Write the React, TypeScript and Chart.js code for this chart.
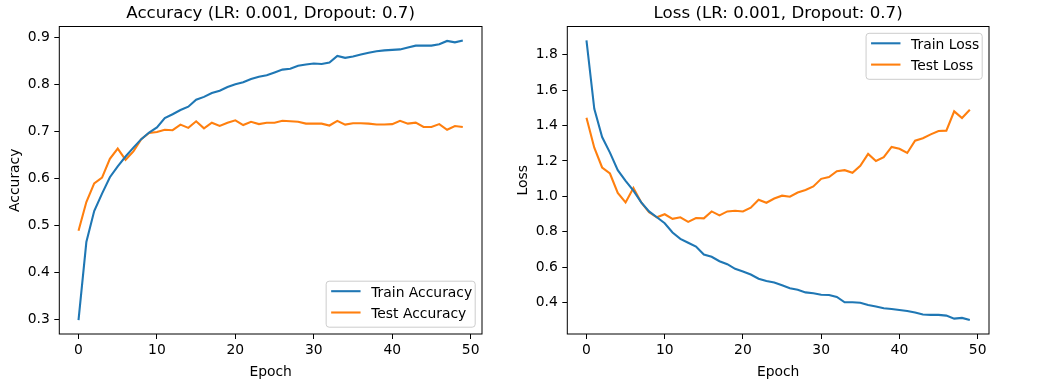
import React, { useEffect, useRef } from "react";
import { Chart, registerables } from "chart.js";

Chart.register(...registerables);

const epochs = [
  0, 1, 2, 3, 4, 5, 6, 7, 8, 9, 10, 11, 12, 13, 14, 15, 16, 17, 18, 19, 20, 21, 22, 23, 24,
  25, 26, 27, 28, 29, 30, 31, 32, 33, 34, 35, 36, 37, 38, 39, 40, 41, 42, 43, 44, 45, 46, 47, 48, 49,
];

const trainAcc = [
  0.298, 0.464, 0.53, 0.567, 0.602, 0.625, 0.646, 0.665, 0.683, 0.697,
  0.708, 0.728, 0.736, 0.745, 0.752, 0.767, 0.773, 0.781, 0.786, 0.794,
  0.8, 0.804, 0.811, 0.816, 0.819, 0.825, 0.831, 0.833, 0.839, 0.842,
  0.844, 0.843, 0.846, 0.86, 0.856, 0.859, 0.863, 0.867, 0.87, 0.872,
  0.873, 0.874, 0.878, 0.882, 0.882, 0.882, 0.885, 0.892, 0.889, 0.893,
];

const testAcc = [
  0.488, 0.549, 0.589, 0.601, 0.641, 0.663, 0.639, 0.657, 0.683, 0.696,
  0.698, 0.703, 0.702, 0.714, 0.707, 0.721, 0.706, 0.718, 0.711, 0.718,
  0.723, 0.713, 0.72, 0.715, 0.718, 0.718, 0.722, 0.721, 0.72, 0.716,
  0.716, 0.716, 0.712, 0.722, 0.714, 0.717, 0.717, 0.716, 0.714, 0.714,
  0.715, 0.722, 0.716, 0.718, 0.709, 0.709, 0.715, 0.703, 0.711, 0.709,
];

const trainLoss = [
  1.88, 1.494, 1.335, 1.247, 1.148, 1.088, 1.032, 0.966, 0.915, 0.882,
  0.848, 0.796, 0.76, 0.738, 0.717, 0.672, 0.659, 0.634, 0.617, 0.591,
  0.576, 0.559, 0.535, 0.522, 0.514, 0.498, 0.481, 0.473, 0.458, 0.453,
  0.445, 0.443, 0.432, 0.402, 0.402, 0.4, 0.387, 0.378, 0.368, 0.364,
  0.359, 0.353, 0.344, 0.333, 0.331, 0.331, 0.327, 0.31, 0.314, 0.302,
];

const testLoss = [
  1.444, 1.275, 1.163, 1.129, 1.019, 0.966, 1.047, 0.966, 0.91, 0.882,
  0.899, 0.873, 0.882, 0.856, 0.878, 0.876, 0.915, 0.893, 0.915, 0.919,
  0.915, 0.936, 0.981, 0.964, 0.988, 1.004, 0.998, 1.022, 1.036, 1.056,
  1.099, 1.109, 1.142, 1.148, 1.133, 1.172, 1.24, 1.2, 1.221, 1.279,
  1.269, 1.245, 1.314, 1.328, 1.35, 1.369, 1.371, 1.48, 1.442, 1.489,
];

const xTicks = [0, 10, 20, 30, 40, 50];
const accTicks = [0.3, 0.4, 0.5, 0.6, 0.7, 0.8, 0.9];
const lossTicks = [0.4, 0.6, 0.8, 1.0, 1.2, 1.4, 1.6, 1.8];

const BLUE = "#1f77b4";
const ORANGE = "#ff7f0e";
const FONT = '"DejaVu Sans", "Liberation Sans", sans-serif';
const TICK_SIZE = 13.89;
const TITLE_SIZE = 16.67;

type LegendItem = { label: string; color: string };

type PanelCfg = {
  title: string;
  xLabel: string;
  yLabel: string;
  yLabelX: number;
  legend: LegendItem[];
  legendLoc: "lower right" | "upper right";
};

function margins(arrs: number[][]) {
  let lo = Infinity;
  let hi = -Infinity;
  arrs.forEach((a) => a.forEach((v) => { if (v < lo) lo = v; if (v > hi) hi = v; }));
  const pad = (hi - lo) * 0.05;
  return { min: lo - pad, max: hi + pad };
}

function decorPlugin(cfg: PanelCfg) {
  return {
    id: "mplDecor",
    afterDraw(chart: any) {
      const { ctx, chartArea: a } = chart;
      ctx.save();
      // axes frame
      ctx.strokeStyle = "#000";
      ctx.lineWidth = 1;
      ctx.strokeRect(a.left, a.top, a.right - a.left, a.bottom - a.top);

      const cx = (a.left + a.right) / 2;
      ctx.fillStyle = "#000";
      ctx.textAlign = "center";
      ctx.textBaseline = "alphabetic";
      ctx.font = `${TITLE_SIZE}px ${FONT}`;
      ctx.fillText(cfg.title, cx, 18.3);

      ctx.font = `${TICK_SIZE}px ${FONT}`;
      ctx.fillText(cfg.xLabel, cx, 375.8);

      ctx.save();
      ctx.translate(cfg.yLabelX, (a.top + a.bottom) / 2);
      ctx.rotate(-Math.PI / 2);
      ctx.fillText(cfg.yLabel, 0, 0);
      ctx.restore();

      // legend
      ctx.font = `${TICK_SIZE}px ${FONT}`;
      const textW = Math.max(...cfg.legend.map((l) => ctx.measureText(l.label).width));
      const boxW = 48 + textW;
      const boxH = 46;
      const right = a.right - 6.8;
      const top = cfg.legendLoc === "upper right" ? a.top + 6.8 : a.bottom - 6.8 - boxH;
      const left = right - boxW;
      ctx.beginPath();
      ctx.roundRect(left, top, boxW, boxH, 3);
      ctx.fillStyle = "rgba(255,255,255,0.8)";
      ctx.fill();
      ctx.strokeStyle = "#cccccc";
      ctx.lineWidth = 1;
      ctx.stroke();
      cfg.legend.forEach((item, i) => {
        const y = top + 10 + i * 21.3;
        ctx.beginPath();
        ctx.strokeStyle = item.color;
        ctx.lineWidth = 2.08;
        ctx.moveTo(left + 5, y);
        ctx.lineTo(left + 34.4, y);
        ctx.stroke();
        ctx.fillStyle = "#000";
        ctx.textAlign = "left";
        ctx.fillText(item.label, left + 45, y + 5.5);
      });
      ctx.restore();
    },
  };
}

function makeConfig(
  series: { label: string; data: number[]; color: string }[],
  yTicks: number[],
  cfg: PanelCfg,
  padding: { left: number; right: number; top: number; bottom: number }
) {
  const yr = margins(series.map((s) => s.data));
  const xr = margins([epochs]);
  const tickFont = { family: FONT, size: TICK_SIZE };
  const grid = {
    display: true,
    drawOnChartArea: false,
    drawTicks: true,
    tickLength: 5,
    color: "#000",
    lineWidth: 1,
  };
  return {
    type: "line" as const,
    data: {
      datasets: series.map((s) => ({
        label: s.label,
        data: epochs.map((e, i) => ({ x: e, y: s.data[i] })),
        borderColor: s.color,
        backgroundColor: s.color,
        borderWidth: 2.08,
        pointRadius: 0,
        pointHoverRadius: 0,
        tension: 0,
        fill: false,
      })),
    },
    options: {
      animation: false as const,
      responsive: false,
      devicePixelRatio: 1,
      events: [],
      layout: { padding },
      plugins: {
        legend: { display: false },
        title: { display: false },
        tooltip: { enabled: false },
      },
      scales: {
        x: {
          type: "linear" as const,
          min: xr.min,
          max: xr.max,
          afterBuildTicks: (s: any) => {
            s.ticks = xTicks.map((v) => ({ value: v }));
          },
          afterFit: (s: any) => {
            s.height = 30;
          },
          ticks: {
            color: "#000",
            font: tickFont,
            padding: 3,
            maxRotation: 0,
            autoSkip: false,
            callback: (v: any) => String(v),
          },
          grid,
          border: { display: false },
        },
        y: {
          type: "linear" as const,
          min: yr.min,
          max: yr.max,
          afterBuildTicks: (s: any) => {
            s.ticks = yTicks.map((v) => ({ value: v }));
          },
          afterFit: (s: any) => {
            s.width = 40;
          },
          ticks: {
            color: "#000",
            font: tickFont,
            padding: 4.5,
            autoSkip: false,
            callback: (v: any) => Number(v).toFixed(1),
          },
          grid,
          border: { display: false },
        },
      },
    },
    plugins: [decorPlugin(cfg)],
  };
}

function Panel(props: {
  left: number;
  width: number;
  series: { label: string; data: number[]; color: string }[];
  yTicks: number[];
  cfg: PanelCfg;
  padding: { left: number; right: number; top: number; bottom: number };
}) {
  const ref = useRef<HTMLCanvasElement | null>(null);
  useEffect(() => {
    if (!ref.current) return;
    const chart = new Chart(ref.current, makeConfig(props.series, props.yTicks, props.cfg, props.padding) as any);
    return () => chart.destroy();
  }, []);
  return (
    <canvas
      ref={ref}
      width={props.width}
      height={385}
      style={{ position: "absolute", left: props.left, top: 0, width: props.width, height: 385 }}
    />
  );
}

export default function App() {
  return (
    <div
      style={{
        position: "fixed",
        left: 0,
        top: 0,
        width: 1050,
        height: 385,
        background: "#fff",
        overflow: "hidden",
      }}
    >
      <Panel
        left={0}
        width={500}
        series={[
          { label: "Train Accuracy", data: trainAcc, color: BLUE },
          { label: "Test Accuracy", data: testAcc, color: ORANGE },
        ]}
        yTicks={accTicks}
        cfg={{
          title: "Accuracy (LR: 0.001, Dropout: 0.7)",
          xLabel: "Epoch",
          yLabel: "Accuracy",
          yLabelX: 18.6,
          legend: [
            { label: "Train Accuracy", color: BLUE },
            { label: "Test Accuracy", color: ORANGE },
          ],
          legendLoc: "lower right",
        }}
        padding={{ left: 19.3, right: 18, top: 26.5, bottom: 21 }}
      />
      <Panel
        left={500}
        width={550}
        series={[
          { label: "Train Loss", data: trainLoss, color: BLUE },
          { label: "Test Loss", data: testLoss, color: ORANGE },
        ]}
        yTicks={lossTicks}
        cfg={{
          title: "Loss (LR: 0.001, Dropout: 0.7)",
          xLabel: "Epoch",
          yLabel: "Loss",
          yLabelX: 26.7,
          legend: [
            { label: "Train Loss", color: BLUE },
            { label: "Test Loss", color: ORANGE },
          ],
          legendLoc: "upper right",
        }}
        padding={{ left: 27.3, right: 61, top: 26.5, bottom: 21 }}
      />
    </div>
  );
}
